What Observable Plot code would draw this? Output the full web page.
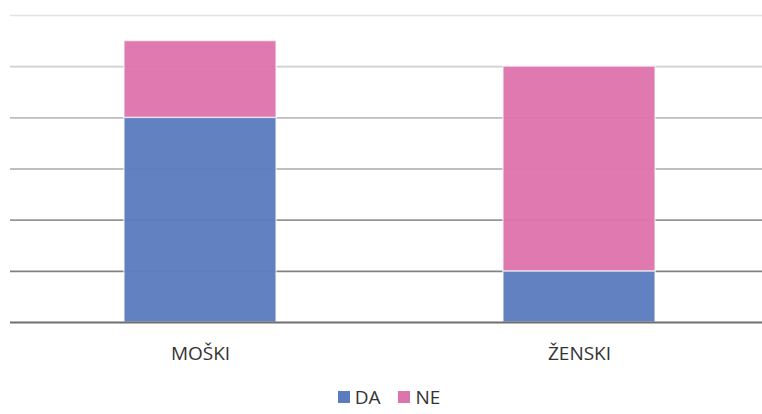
<!DOCTYPE html>
<html>
<head>
<meta charset="utf-8">
<script src="https://cdn.jsdelivr.net/npm/d3@7"></script>
<script src="https://cdn.jsdelivr.net/npm/@observablehq/plot@0.6"></script>
<style>
  body { margin: 0; background: #fff; font-family: "Open Sans", sans-serif; }
  #legend { display: flex; justify-content: center; align-items: center; height: 34px; padding-left: 16px; font-size: 19px; color: #333; }
  .item { display: flex; align-items: center; margin: 0 9px; }
  .sw { width: 12px; height: 12px; margin-right: 5px; }
</style>
</head>
<body>
<div id="chart"></div>
<div id="legend"></div>
<script>
const categories = ["MOŠKI", "ŽENSKI"];
const series = ["DA", "NE"];
const daValues = [8, 2];
const neValues = [3, 8];
const gridTicks = [0, 2, 4, 6, 8, 10, 12];

const colors = ["#5b7cbe", "#de74ac"];

const rows = [];
categories.forEach((c, i) => {
  rows.push({cat: c, series: "DA", value: daValues[i]});
  rows.push({cat: c, series: "NE", value: neValues[i]});
});

const gridColor = d3.scaleLinear().domain([0, 12]).range(["#6e6e6e", "#e4e4e4"]);

const chart = Plot.plot({
  width: 762,
  height: 380,
  marginTop: 15,
  marginBottom: 58,
  marginLeft: 10,
  marginRight: 0,
  style: {fontFamily: "Open Sans, sans-serif", background: "#fff"},
  x: {domain: categories, paddingInner: 0.6, paddingOuter: 0.29, align: 0.514, label: null},
  y: {domain: [0, 12], axis: null},
  color: {domain: series, range: colors},
  marks: [
    Plot.ruleY(gridTicks.filter(t => t > 0), {stroke: d => gridColor(d), strokeWidth: 1.6}),
    Plot.barY(rows, Plot.stackY({x: "cat", y: "value", fill: "series", fillOpacity: 0.96, stroke: "#ffffff", strokeOpacity: 0.6, strokeWidth: 1.5, order: series})),
    Plot.ruleY([0], {stroke: gridColor(0), strokeWidth: 2}),
    Plot.axisX({tickSize: 0, tickPadding: 24, fontSize: 19, fill: "#333"})
  ]
});
document.getElementById("chart").appendChild(chart);

const legend = document.getElementById("legend");
series.forEach((s, i) => {
  const item = document.createElement("div");
  item.className = "item";
  const sw = document.createElement("div");
  sw.className = "sw";
  sw.style.background = colors[i];
  const t = document.createElement("span");
  t.textContent = s;
  item.appendChild(sw);
  item.appendChild(t);
  legend.appendChild(item);
});
</script>
</body>
</html>
